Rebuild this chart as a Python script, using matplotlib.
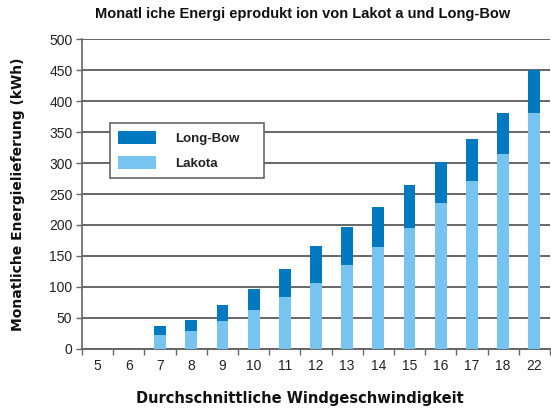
import matplotlib
matplotlib.use("Agg")
import matplotlib.pyplot as plt
import numpy as np

plt.rcParams['font.family'] = ['Liberation Sans', 'DejaVu Sans']

# wind speed classes and monthly energy (kWh)
speeds = ["5", "6", "7", "8", "9", "10", "11", "12", "13", "14", "15", "16", "17", "18", "22"]
lakota = [0, 0, 23, 29, 45, 63, 84, 106, 135, 164, 195, 235, 271, 314, 380]
longbow = [0, 0, 14, 18, 26, 34, 45, 60, 62, 65, 69, 66, 68, 66, 70]

C_LAKOTA = "#76c4ef"
C_LONGBOW = "#0079c1"
GRID = "#666666"

fig = plt.figure(figsize=(5.51, 4.08), dpi=100)
ax = fig.add_axes([0.149, 0.145, 0.849, 0.759])

x = np.arange(len(speeds))
ax.bar(x, lakota, width=0.38, color=C_LAKOTA, label="Lakota", zorder=3)
ax.bar(x, longbow, width=0.38, bottom=lakota, color=C_LONGBOW, label="Long-Bow", zorder=3)

ax.set_xlim(-0.5, len(speeds) - 0.5)
ax.set_ylim(0, 500)
ax.set_yticks(np.arange(0, 501, 50))
ax.set_xticks(x, speeds)
ax.set_xticks(np.arange(-0.5, len(speeds), 1), minor=True)
ax.tick_params(axis="x", which="major", length=0, pad=7, labelsize=10, colors="#222222")
ax.tick_params(axis="x", which="minor", length=4, width=1, color=GRID, direction="out")
ax.tick_params(axis="y", length=4, width=1, color=GRID, labelsize=10, labelcolor="#222222", pad=3)

ax.grid(axis="y", color=GRID, lw=1.4, zorder=1)
for side in ("top", "right"):
    ax.spines[side].set_visible(False)
ax.spines["left"].set_color(GRID)
ax.spines["left"].set_linewidth(1.2)
ax.spines["bottom"].set_color(GRID)
ax.spines["bottom"].set_linewidth(1.4)

lab = dict(fontweight="bold", family=["DejaVu Sans"], color="#111111")
ax.set_xlabel("Durchschnittliche Windgeschwindigkeit", labelpad=13, fontsize=10.5, **lab)
ax.xaxis.label.set_x(0.466)
ax.set_ylabel("Monatliche Energielieferung (kWh)", labelpad=17, fontsize=10, **lab)
fig.text(0.55, 0.965, "Monatl iche Energi eprodukt ion von Lakot a und Long-Bow",
         ha="center", va="center", fontsize=10.5, fontweight="bold", color="#111111")

handles, labels = ax.get_legend_handles_labels()
leg = ax.legend(handles[::-1], labels[::-1], loc="upper left", mode="expand",
                bbox_to_anchor=(110 / 551, 1 - 180 / 408, 154 / 551, 57 / 408),
                bbox_transform=fig.transFigure,
                fancybox=False, framealpha=1, edgecolor=GRID,
                prop={"weight": "bold", "size": 9.5}, handlelength=2.9, handleheight=1.1,
                handletextpad=1.4, borderpad=0.6, labelspacing=0.85, borderaxespad=0)
leg.get_frame().set_linewidth(1.2)
leg.set_zorder(5)
for t in leg.get_texts():
    t.set_color("#222222")

fig.savefig("out.png", dpi=100)
